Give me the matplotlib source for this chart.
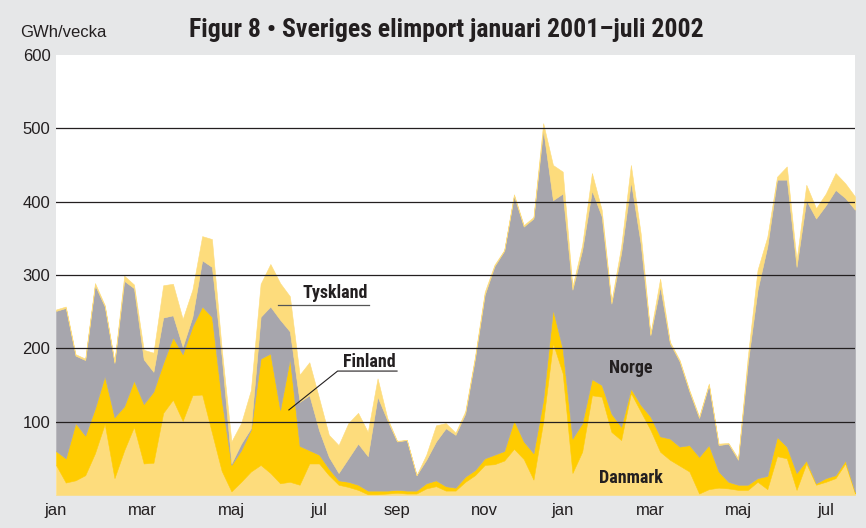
import numpy as np
import matplotlib
matplotlib.use('Agg')
import matplotlib.pyplot as plt

# weekly import, GWh/vecka, jan 2001 - jul 2002
danmark = [41, 17, 20, 27, 57, 97, 23, 61, 93, 43, 44, 112, 130, 101, 136, 137, 85, 33, 5, 18,
           32, 41, 30, 16, 18, 14, 43, 43, 27, 14, 11, 7, 1, 1, 2, 3, 2, 2, 9, 12,
           6, 6, 18, 27, 41, 42, 47, 63, 49, 21, 100, 207, 166, 30, 59, 136, 134, 86, 75, 139,
           114, 89, 59, 48, 40, 32, 2, 8, 10, 9, 7, 7, 18, 8, 53, 50, 7, 43, 14, 18,
           23, 43, 2]
finland = [19, 33, 78, 54, 61, 65, 83, 60, 63, 81, 97, 68, 85, 91, 94, 120, 158, 97, 36, 43,
           57, 145, 163, 100, 168, 53, 18, 12, 9, 6, 7, 7, 5, 5, 4, 4, 4, 4, 7, 8,
           6, 4, 7, 7, 9, 13, 13, 39, 24, 36, 30, 46, 33, 47, 39, 22, 16, 25, 18, 6,
           9, 18, 21, 29, 26, 36, 50, 60, 22, 9, 7, 7, 5, 18, 26, 16, 23, 4, 2, 5,
           4, 4, 2]
norge = [191, 205, 92, 103, 168, 95, 74, 171, 126, 61, 27, 62, 30, 10, 13, 63, 68, 59, 2, 9,
         2, 57, 64, 123, 37, 60, 75, 33, 16, 10, 32, 56, 47, 128, 96, 66, 69, 21, 32, 53,
         79, 72, 86, 152, 223, 257, 273, 306, 293, 320, 368, 149, 212, 203, 236, 257, 230, 150, 237, 282,
         220, 111, 204, 130, 116, 73, 53, 82, 36, 52, 34, 166, 257, 313, 351, 364, 281, 355, 361, 372,
         389, 358, 385]
tyskland = [2, 2, 2, 2, 3, 2, 2, 7, 5, 13, 26, 44, 43, 38, 37, 33, 38, 11, 30, 28,
            52, 45, 58, 50, 48, 37, 45, 44, 30, 38, 48, 42, 33, 25, 3, 1, 0, 0, 7, 22,
            7, 3, 3, 3, 4, 2, 1, 2, 2, 2, 9, 48, 30, 4, 7, 24, 9, 3, 9, 23,
            14, 2, 11, 2, 2, 2, 2, 2, 2, 1, 2, 9, 27, 13, 4, 18, 9, 21, 14, 16,
            23, 20, 18]

months = ['jan', 'mar', 'maj', 'jul', 'sep', 'nov', 'jan', 'mar', 'maj', 'jul']
month_pos = [0, 8.9, 18, 27, 35, 44, 52, 61, 70, 79]
y_ticks = [100, 200, 300, 400, 500, 600]

weeks = np.arange(len(danmark))

light = '#fddc7c'
gold = '#ffcc00'
grey = '#a7a6ad'
bg = '#e6e7e8'
narrow = ['Roboto Condensed', 'Archivo Narrow', 'Barlow Semi Condensed', 'DejaVu Sans']
plt.rcParams['font.family'] = ['Liberation Sans', 'DejaVu Sans']

fig = plt.figure(figsize=(8.66, 5.28), dpi=100, facecolor=bg)
ax = fig.add_axes([56 / 866, 33 / 528, 799 / 866, 440 / 528])
ax.set_facecolor('white')

ax.stackplot(weeks, danmark, finland, norge, tyskland,
             colors=[light, gold, grey, light], edgecolor='face', linewidth=0.4)

for y in y_ticks[:-1]:
    ax.axhline(y, color='#231f20', lw=0.9, zorder=3)

ax.set_xlim(0, len(weeks) - 1)
ax.set_ylim(0, 600)
for s in ax.spines.values():
    s.set_visible(False)
ax.set_yticks(y_ticks)
ax.set_yticklabels([str(v) for v in y_ticks], fontsize=12, color='#231f20')
ax.set_xticks(month_pos)
ax.set_xticklabels(months, fontsize=12, color='#231f20')
ax.tick_params(axis='y', length=0, pad=4)
ax.tick_params(axis='x', length=0, pad=6)

# series labels
lab = dict(family=narrow, fontweight='bold', fontsize=13, color='#231f20', zorder=5)
ax.text(28.7, 275, 'Tyskland', ha='center', va='center', **lab)
ax.plot([22.8, 32.1], [259, 259], color='#555555', lw=0.9, zorder=5)
ax.text(32.2, 181, 'Finland', ha='center', va='center', **lab)
ax.plot([23.9, 28.9, 35.0], [116, 169, 169], color='#231f20', lw=0.8, zorder=5)
ax.text(59.0, 173, 'Norge', ha='center', va='center', **lab)
ax.text(59.0, 23, 'Danmark', ha='center', va='center', **lab)

fig.text(20 / 866, 1 - 37 / 528, 'GWh/vecka', fontsize=12, color='#231f20',
         ha='left', va='baseline')
fig.text(446 / 866, 1 - 37 / 528, 'Figur 8 \u2022 Sveriges elimport januari 2001\u2013juli 2002',
         family=narrow, fontweight='bold', fontsize=18.5, color='#231f20',
         ha='center', va='baseline')

fig.savefig('out.png', dpi=100, facecolor=bg)
